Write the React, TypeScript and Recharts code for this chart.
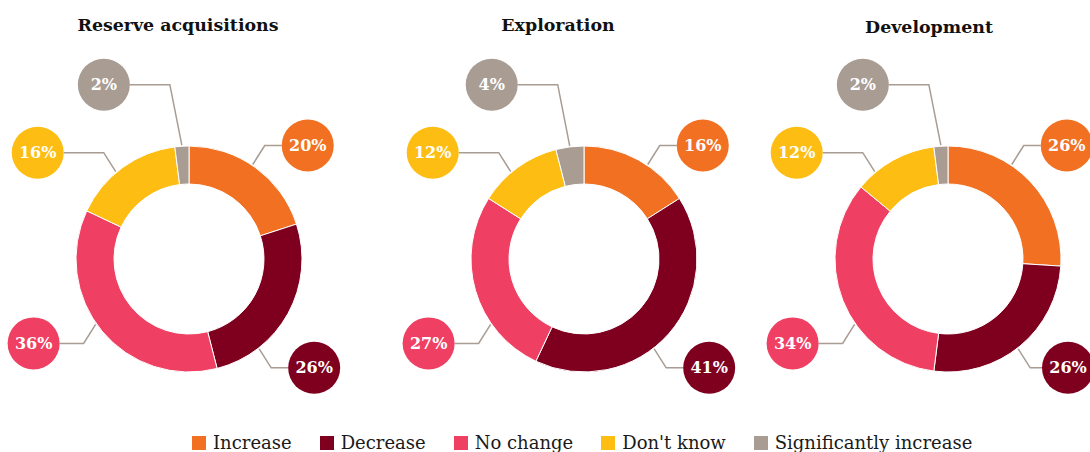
import React from 'react';
import { PieChart, Pie, Cell, Legend } from 'recharts';

// ---------- data ----------
const categories = ['Increase', 'Decrease', 'No change', "Don't know", 'Significantly increase'];
const chartTitles = ['Reserve acquisitions', 'Exploration', 'Development'];
const reserveAcquisitions = [20, 26, 36, 16, 2];
const exploration = [16, 41, 27, 12, 4];
const development = [26, 26, 34, 12, 2];
const seriesList = [reserveAcquisitions, exploration, development];

// ---------- style / layout ----------
const colors = ['#F27022', '#7E001E', '#EF4063', '#FDBD12', '#A89C93'];
const W = 1090;
const H = 452;
const CY = 259;
const CXS = [189, 584, 948];
const TITLE_X = [178, 558, 929];
const TITLE_TOP = [15, 15, 17];
const OUTER = 113;
const INNER = 75;
const BUBBLE_R = 26;
const PREFERRED_ANGLES = [34, 142, 235, 320]; // clockwise from 12 o'clock
const ELBOW_DX = 12;
const ELBOW_DY = 19;
const MIN_VGAP = 68;
const LINE_COLOR = '#A89C93';
const FONT = '"DejaVu Serif", serif';
const RAD = Math.PI / 180;

type LabelLayout = { sx: number; sy: number; ex: number; by: number; bx: number; side: number };

// label layout relative to the pie centre
function labelLayout(values: number[]): LabelLayout[] {
  const total = values.reduce((a, b) => a + b, 0);
  let cum = 0;
  const items = values.map((v) => {
    const a0 = (cum / total) * 360;
    cum += v;
    const a1 = (cum / total) * 360;
    const mid = (a0 + a1) / 2;
    let best = PREFERRED_ANGLES[0];
    let bd = Infinity;
    PREFERRED_ANGLES.forEach((p) => {
      const d = Math.min(Math.abs(p - mid), 360 - Math.abs(p - mid));
      if (d < bd) {
        bd = d;
        best = p;
      }
    });
    const margin = Math.min(10, (a1 - a0) / 2);
    const ang = Math.min(Math.max(best, a0 + margin), a1 - margin);
    const sin = Math.sin(ang * RAD);
    const cos = Math.cos(ang * RAD);
    const side = sin >= 0 ? 1 : -1;
    const vs = cos > 0 ? -1 : 1;
    const sx = (OUTER + 1) * sin;
    const sy = -(OUTER + 1) * cos;
    const L = side > 0 ? 17 : vs < 0 ? 40 : 24;
    const bx = sx + side * (ELBOW_DX + L + BUBBLE_R);
    const by = sy + vs * ELBOW_DY;
    return { sx, sy, ex: sx + side * ELBOW_DX, by, bx, side };
  });
  [1, -1].forEach((side) => {
    const s = items.filter((o) => o.side === side).sort((a, b) => a.by - b.by);
    for (let k = s.length - 2; k >= 0; k--) {
      if (s[k].by > s[k + 1].by - MIN_VGAP) s[k].by = s[k + 1].by - MIN_VGAP;
    }
  });
  return items;
}

function makeLabel(chartIdx: number) {
  const layout = labelLayout(seriesList[chartIdx]);
  return (props: any) => {
    const { cx, cy, index, value } = props;
    const l = layout[index];
    // keep the bubble text inside the canvas
    let bx = cx + l.bx;
    if (l.side > 0) bx = Math.min(bx, W - 22);
    else bx = Math.max(bx, 22);
    const ex = cx + l.ex;
    const by = cy + l.by;
    const edge = bx - l.side * BUBBLE_R;
    return (
      <g key={`lbl-${chartIdx}-${index}`}>
        <path
          d={`M${cx + l.sx},${cy + l.sy}L${ex},${by}L${edge},${by}`}
          fill="none"
          stroke={LINE_COLOR}
          strokeWidth={1.5}
        />
        <circle cx={bx} cy={by} r={BUBBLE_R} fill={colors[index]} />
        <text
          x={bx}
          y={by}
          textAnchor="middle"
          dominantBaseline="central"
          fill="#fff"
          fontFamily={FONT}
          fontWeight="bold"
          fontSize={16}
        >
          {`${value}%`}
        </text>
      </g>
    );
  };
}

function LegendContent() {
  return (
    <div style={{ display: 'flex', alignItems: 'center', fontFamily: FONT, fontSize: 18, lineHeight: '20px', color: '#1a1a1a', whiteSpace: 'nowrap' }}>
      {categories.map((c, i) => (
        <div key={c} style={{ display: 'flex', alignItems: 'center', marginRight: 28 }}>
          <span style={{ display: 'inline-block', width: 14, height: 14, background: colors[i], marginRight: 7 }} />
          <span>{c}</span>
        </div>
      ))}
    </div>
  );
}

export default function App() {
  return (
    <div style={{ position: 'absolute', left: 0, top: 0, width: W, height: H, overflow: 'hidden', background: '#fff' }}>
      <PieChart width={W} height={H} margin={{ top: 0, right: 0, bottom: 0, left: 0 }}>
        {seriesList.map((vals, ci) => (
          <Pie
            key={chartTitles[ci]}
            data={categories.map((name, i) => ({ name, value: vals[i] }))}
            dataKey="value"
            nameKey="name"
            cx={CXS[ci]}
            cy={CY}
            innerRadius={INNER}
            outerRadius={OUTER}
            startAngle={90}
            endAngle={-270}
            stroke="#fff"
            strokeWidth={1}
            isAnimationActive={false}
            label={makeLabel(ci)}
            labelLine={false}
          >
            {categories.map((c, i) => (
              <Cell key={c} fill={colors[i]} />
            ))}
          </Pie>
        ))}
        <Legend
          content={() => <LegendContent />}
          wrapperStyle={{ position: 'absolute', left: 192, top: 433, bottom: 'auto', width: 'auto' }}
        />
      </PieChart>
      {chartTitles.map((t, i) => (
        <div
          key={t}
          style={{
            position: 'absolute',
            left: TITLE_X[i],
            top: TITLE_TOP[i],
            transform: 'translateX(-50%)',
            fontFamily: FONT,
            fontWeight: 'bold',
            fontSize: 17.4,
            lineHeight: '20px',
            color: '#111',
            whiteSpace: 'nowrap',
          }}
        >
          {t}
        </div>
      ))}
    </div>
  );
}
